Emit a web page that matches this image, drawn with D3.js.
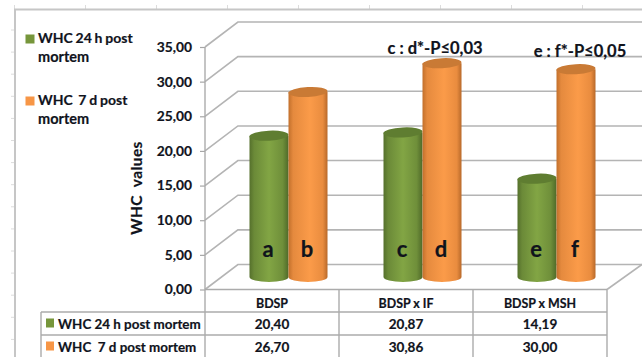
<!DOCTYPE html>
<html lang="en">
<head>
<meta charset="UTF-8">
<title>WHC values</title>
<script src="https://d3js.org/d3.v7.min.js"></script>
<style>
    html, body { margin: 0; padding: 0; background: #fff; overflow: hidden; }
    svg { display: block; }
    text { font-family: Lato, "Noto Sans", sans-serif; font-weight: 700; fill: #10131c; stroke: #10131c; stroke-width: 0.2; white-space: pre; }
    .axis path { display: none; }
    .axis line { stroke: #a6a6a6; stroke-width: 1.2; }
    .axis text { font-size: 13.8px; }
    .grid { stroke: #b4b4b4; stroke-width: 1.6; fill: none; }
    .rule { stroke: #ababab; stroke-width: 1.4; fill: none; }
</style>
</head>
<body>
<div id="chart"></div>
<script>
    const categories = ["BDSP", "BDSP x IF", "BDSP x MSH"];
    const seriesNames = ["WHC 24 h post mortem", "WHC  7 d post mortem"];
    const whc24h = [20.40, 20.87, 14.19];
    const whc7d = [26.70, 30.86, 30.00];
    const barLetters = [["a", "b"], ["c", "d"], ["e", "f"]];
    const notes = ["", "c : d*-P≤0,03", "e : f*-P≤0,05"];
    const yTicks = [0, 5, 10, 15, 20, 25, 30, 35];
    const legendLines = [["WHC 24 h post", "mortem"], ["WHC  7 d post", "mortem"]];

    const series = [whc24h, whc7d];
    const width = 642, height = 357;

    // floor / wall geometry of the 3D box
    const plotLeft = 205, plotRight = 607;
    const depthX = 35, depthY = -25;
    const barW = 39, capRy = 5;

    const svg = d3.select("#chart").append("svg")
        .attr("width", width)
        .attr("height", height);

    const y = d3.scaleLinear().domain([0, 35]).range([289.5, 47]);
    const x = d3.scaleBand().domain(categories).range([plotLeft, plotRight]);
    const xSub = d3.scaleBand().domain([0, 1]).range([-barW, barW]);
    const comma = d => d3.format(".2f")(d).replace(".", ",");

    // gradients for the cylinders
    const defs = svg.append("defs");
    function cylGradient(id, stops) {
        const g = defs.append("linearGradient").attr("id", id);
        stops.forEach(s => g.append("stop").attr("offset", s[0]).attr("stop-color", s[1]));
    }
    cylGradient("green", [[0, "#55702c"], [0.12, "#6b8a38"], [0.5, "#82a544"], [0.85, "#6f8f3a"], [1, "#4f6a29"]]);
    cylGradient("orange", [[0, "#c2702c"], [0.12, "#e58a3e"], [0.55, "#fb9b49"], [0.88, "#e98c3f"], [1, "#b8692a"]]);
    const capColor = ["#5f7d31", "#c97a35"];
    const gradIds = ["green", "orange"];

    // worksheet frame behind the chart
    const sheet = svg.append("g");
    sheet.selectAll("line.tickTop").data(d3.range(0, 9)).enter().append("line")
        .attr("x1", d => 14.5 + 71 * d).attr("x2", d => 14.5 + 71 * d)
        .attr("y1", 5).attr("y2", 9)
        .attr("stroke", "#dcdcdc");
    sheet.selectAll("line.tickLeft").data(d3.range(0, 15)).enter().append("line")
        .attr("x1", 11).attr("x2", 15)
        .attr("y1", d => 30 + 22.1 * d).attr("y2", d => 30 + 22.1 * d)
        .attr("stroke", "#dcdcdc");
    sheet.append("path")
        .attr("d", `M15,${height}V9.5H${width}`)
        .attr("fill", "none")
        .attr("stroke", "#c6c6c6")
        .attr("stroke-width", 2);

    // back wall gridlines and side wall
    const walls = svg.append("g");
    yTicks.forEach(t => {
        const yy = y(t);
        const endX = t === 0 ? plotRight + depthX : width;
        walls.append("path")
            .attr("class", "grid")
            .attr("d", `M${plotLeft},${yy}L${plotLeft + depthX * 0.94},${yy + depthY}H${endX}`);
    });
    walls.append("path")
        .attr("class", "grid")
        .attr("d", `M${plotRight},${y(0)}L${plotRight + depthX},${y(0) + depthY}`);

    // cylinders, each series drawn left to right so orange sits over green
    const barsG = svg.append("g");
    categories.forEach((cat, i) => {
        series.forEach((vals, s) => {
            const cx = x(cat) + x.bandwidth() / 2 + depthX / 2 - 1 + xSub(s) + barW / 2;
            const base = y(0) + depthY / 2;
            const top = y(vals[i]) + depthY / 2;
            const rx = barW / 2;
            barsG.append("path")
                .attr("d", `M${cx - rx},${top}V${base}A${rx},${capRy} 0 0 0 ${cx + rx},${base}V${top}Z`)
                .attr("fill", `url(#${gradIds[s]})`);
            barsG.append("ellipse")
                .attr("cx", cx).attr("cy", top)
                .attr("rx", rx).attr("ry", capRy)
                .attr("transform", `rotate(-3 ${cx} ${top})`)
                .attr("fill", capColor[s]);
            barsG.append("text")
                .attr("x", cx - 1).attr("y", 257)
                .attr("text-anchor", "middle")
                .style("font-size", "22px")
                .text(barLetters[i][s]);
        });
    });

    // significance notes above the groups
    svg.selectAll("text.note").data(notes).enter().append("text")
        .attr("class", "note")
        .attr("x", (d, i) => i === 1 ? 435 : 580)
        .attr("y", (d, i) => i === 1 ? 54 : 57)
        .attr("text-anchor", "middle")
        .style("font-size", "16.5px")
        .text(d => d);

    // value axis
    svg.append("g")
        .attr("class", "axis")
        .attr("transform", `translate(${plotLeft},0)`)
        .call(d3.axisLeft(y).tickValues(yTicks).tickSize(5).tickPadding(8).tickFormat(comma));

    svg.append("text")
        .attr("transform", "translate(142,188) rotate(-90)")
        .attr("text-anchor", "middle")
        .style("font-size", "15.5px")
        .style("letter-spacing", "0.4px")
        .text("WHC  values");

    // data table under the plot
    const rowY = [290, 312, 335, height];
    const table = svg.append("g");
    table.append("line").attr("class", "rule")
        .attr("x1", plotLeft).attr("x2", plotLeft).attr("y1", y(35)).attr("y2", height);
    categories.forEach(c => {
        table.append("line").attr("class", "rule")
            .attr("x1", x(c) + x.bandwidth()).attr("x2", x(c) + x.bandwidth())
            .attr("y1", y(0)).attr("y2", height);
    });
    table.append("line").attr("class", "rule").attr("x1", 41).attr("x2", 41).attr("y1", rowY[1]).attr("y2", height);
    [rowY[1], rowY[2]].forEach(ry => {
        table.append("line").attr("class", "rule")
            .attr("x1", 41).attr("x2", plotRight).attr("y1", ry).attr("y2", ry);
    });
    table.append("line").attr("class", "rule")
        .attr("x1", plotLeft).attr("x2", plotRight).attr("y1", y(0)).attr("y2", y(0));

    categories.forEach((cat, i) => {
        table.append("text")
            .attr("x", x(cat) + x.bandwidth() / 2).attr("y", 308)
            .attr("text-anchor", "middle")
            .style("font-size", "12.4px")
            .text(cat);
        series.forEach((vals, s) => {
            table.append("text")
                .attr("x", x(cat) + x.bandwidth() / 2).attr("y", rowY[s + 1] + 17)
                .attr("text-anchor", "middle")
                .style("font-size", "13.5px")
                .text(comma(vals[i]));
        });
    });
    const swatch = ["#76963b", "#f79646"];
    seriesNames.forEach((name, s) => {
        table.append("rect")
            .attr("x", 46).attr("y", rowY[s + 1] + 6.5)
            .attr("width", 8).attr("height", 9)
            .attr("fill", swatch[s]);
        table.append("text")
            .attr("x", 58).attr("y", rowY[s + 1] + 16.5)
            .style("font-size", "13.4px")
            .text(name);
    });

    // legend
    const legendTop = [43, 105];
    legendLines.forEach((lines, s) => {
        svg.append("rect")
            .attr("x", 25.5).attr("y", legendTop[s] - 8.5)
            .attr("width", 9).attr("height", 9)
            .attr("fill", swatch[s]);
        lines.forEach((ln, k) => {
            svg.append("text")
                .attr("x", 38).attr("y", legendTop[s] + k * 19)
                .style("font-size", k === 0 ? "14px" : "14.5px")
                .style("word-spacing", k === 0 ? "-0.6px" : null)
                .text(ln);
        });
    });
</script>
</body>
</html>
